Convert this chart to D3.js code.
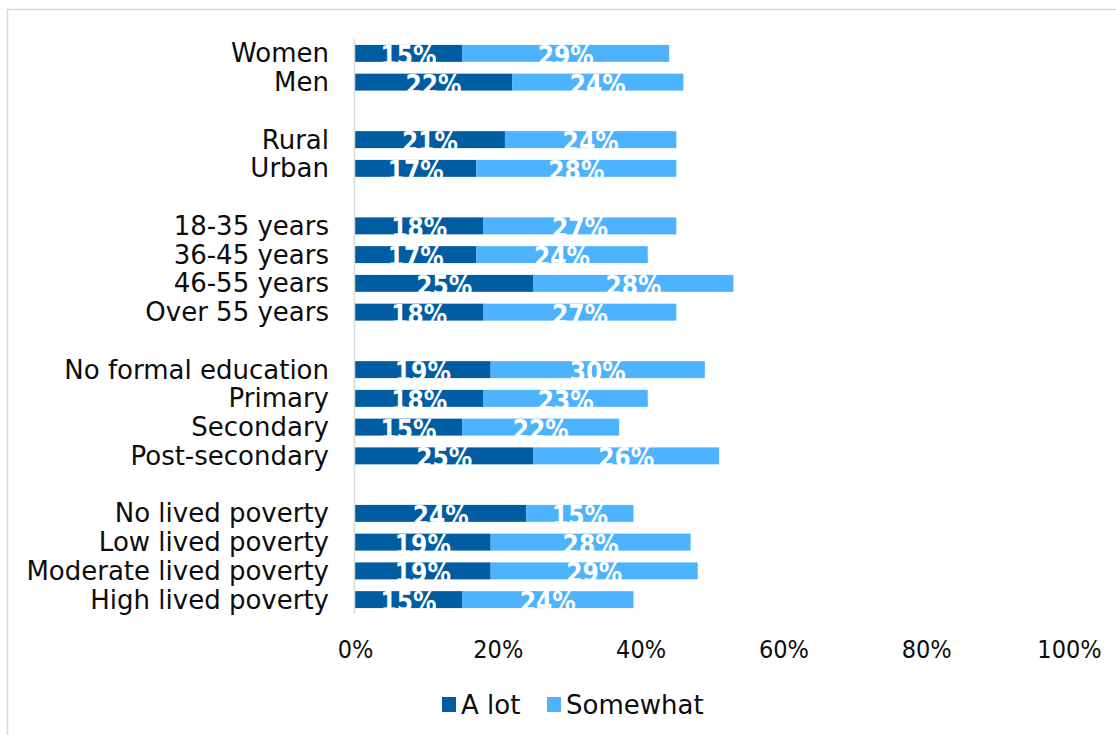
<!DOCTYPE html>
<html>
<head>
<meta charset="utf-8">
<script src="https://cdn.jsdelivr.net/npm/d3@7"></script>
<style>
  html, body { margin: 0; padding: 0; background: #fff; }
  svg { display: block; }
  text { font-family: "DejaVu Sans", sans-serif; }
  .cond { font-family: "DejaVu Sans Condensed", "DejaVu Sans", sans-serif; font-stretch: condensed; }
</style>
</head>
<body>
<svg id="chart" width="1116" height="735"></svg>
<script>
// Row labels; empty strings are spacer rows between groups
const categories = [
  "Women", "Men", "",
  "Rural", "Urban", " ",
  "18-35 years", "36-45 years", "46-55 years", "Over 55 years", "  ",
  "No formal education", "Primary", "Secondary", "Post-secondary", "   ",
  "No lived poverty", "Low lived poverty", "Moderate lived poverty", "High lived poverty"
];
const aLot = [15, 22, null, 21, 17, null, 18, 17, 25, 18, null, 19, 18, 15, 25, null, 24, 19, 19, 15];
const somewhat = [29, 24, null, 24, 28, null, 27, 24, 28, 27, null, 30, 23, 22, 26, null, 15, 28, 29, 24];
const seriesNames = ["A lot", "Somewhat"];
const seriesColors = ["#005da2", "#4db3ff"];
const tickValues = [0, 20, 40, 60, 80, 100];

const svg = d3.select("#chart");
const W = 1116, H = 735;

// outer frame
svg.append("rect")
  .attr("x", 7.5).attr("y", 9.5)
  .attr("width", W).attr("height", H)
  .attr("fill", "#fff").attr("stroke", "#d9d9d9").attr("stroke-width", 1.5);

const x = d3.scaleLinear().domain([0, 100]).range([355, 1069]);
const y = d3.scaleBand().domain(categories).range([39, 614]).paddingInner(0.41).paddingOuter(0.205);

const rows = categories.map((c, i) => ({ cat: c, a: aLot[i], s: somewhat[i] }))
  .filter(d => d.a !== null);

const g = svg.append("g");

// bar segments
const segs = [];
rows.forEach(d => {
  segs.push({ cat: d.cat, x0: 0, x1: d.a, v: d.a, k: 0 });
  segs.push({ cat: d.cat, x0: d.a, x1: d.a + d.s, v: d.s, k: 1 });
});

g.selectAll("rect.seg").data(segs).join("rect")
  .attr("class", "seg")
  .attr("x", d => x(d.x0))
  .attr("y", d => y(d.cat))
  .attr("width", d => x(d.x1) - x(d.x0))
  .attr("height", y.bandwidth())
  .attr("fill", d => seriesColors[d.k]);

// value labels (white, sit low in the bar)
g.selectAll("text.val").data(segs).join("text")
  .attr("class", "val cond")
  .attr("x", d => (x(d.x0) + x(d.x1)) / 2)
  .attr("y", d => y(d.cat) + y.bandwidth() + 3)
  .attr("text-anchor", "middle")
  .attr("fill", "#fff")
  .attr("font-size", 26)
  .attr("font-weight", "bold")
  .text(d => d.v + "%");

// vertical category axis line
svg.append("line")
  .attr("x1", 354.5).attr("x2", 354.5)
  .attr("y1", y.range()[0]).attr("y2", y.range()[1])
  .attr("stroke", "#d9d9d9").attr("stroke-width", 1.5);

// category labels
g.selectAll("text.cat").data(rows).join("text")
  .attr("class", "cat")
  .attr("x", 329)
  .attr("y", d => y(d.cat) + y.bandwidth() / 2)
  .attr("dy", "0.35em")
  .attr("text-anchor", "end")
  .attr("fill", "#0d0d0d")
  .attr("font-size", 26)
  .text(d => d.cat);

// x axis tick labels
const xAxis = d3.axisBottom(x).tickValues(tickValues).tickFormat(d => d + "%").tickSize(0).tickPadding(0);
const ax = svg.append("g").attr("transform", "translate(0,640)").call(xAxis);
ax.select(".domain").remove();
ax.selectAll("text")
  .attr("class", "cond")
  .attr("font-size", 25)
  .attr("font-family", null)
  .attr("fill", "#0d0d0d");

// legend
const leg = svg.append("g");
const legX = [442, 547];
seriesNames.forEach((name, i) => {
  leg.append("rect")
    .attr("x", legX[i]).attr("y", 697)
    .attr("width", 14).attr("height", 15)
    .attr("fill", seriesColors[i]);
  leg.append("text")
    .attr("x", legX[i] + 19).attr("y", 705)
    .attr("dy", "0.35em")
    .attr("font-size", 26)
    .attr("fill", "#0d0d0d")
    .text(name);
});
</script>
</body>
</html>
